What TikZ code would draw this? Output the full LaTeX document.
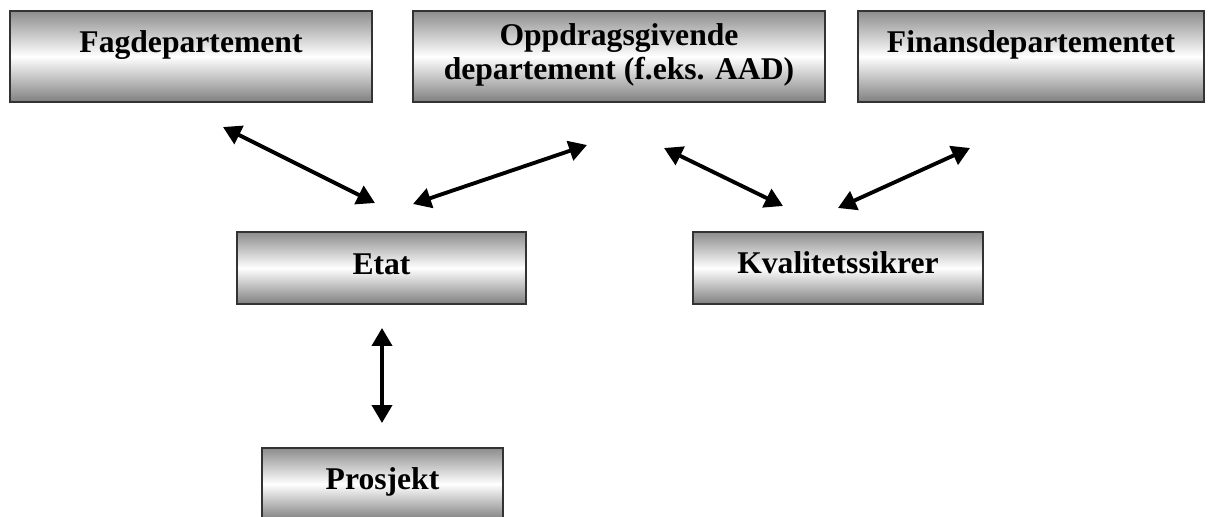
\documentclass[tikz,border=0pt]{standalone}
\usepackage{fontspec}
\setmainfont{Liberation Serif}
\usetikzlibrary{arrows.meta}

\begin{document}
\begin{tikzpicture}[
        x=0.02cm, y=-0.02cm,
        box/.style={rectangle, draw=black!80, line width=0.8pt, top color=black!45, bottom color=black!50, middle color=white, inner sep=0pt, outer sep=0pt},
        topbox/.style={box, minimum height=1.82cm},
        midbox/.style={box, minimum height=1.44cm},
        boxtext/.style={font=\bfseries\fontsize{18}{19.5}\selectfont, align=center, inner sep=0pt, anchor=base},
        link/.style={{Triangle[length=0.36cm, width=0.4cm]}-{Triangle[length=0.36cm, width=0.4cm]}, line width=2.2pt}
    ]
        \useasboundingbox (0,0) rectangle (1214,517);

        % Top row
        \node[topbox, minimum width=7.24cm] (fag) at (191,56.5) {};
        \node[boxtext] (fagtext) at (191,53) {Fagdepartement};

        \node[topbox, minimum width=8.24cm] (opp) at (619,56.5) {};
        \node[boxtext] (opptext) at (619,80) {Oppdragsgivende\\departement (f.eks. AAD)};

        \node[topbox, minimum width=6.92cm] (fin) at (1031,56.5) {};
        \node[boxtext] (fintext) at (1031,53) {Finansdepartementet};

        % Middle row
        \node[midbox, minimum width=5.78cm] (etat) at (381.5,268) {};
        \node[boxtext] (etattext) at (381.5,274) {Etat};

        \node[midbox, minimum width=5.8cm] (kval) at (838,268) {};
        \node[boxtext] (kvaltext) at (838,273) {Kvalitetssikrer};

        % Bottom
        \node[midbox, minimum width=4.82cm] (pro) at (382.5,484) {};
        \node[boxtext] (protext) at (382.5,489) {Prosjekt};

        % Arrow ends
        \coordinate (fagend) at (223,127);
        \coordinate (etatleft) at (375,203);
        \coordinate (etatright) at (413,204);
        \coordinate (oppleft) at (587,145);
        \coordinate (oppright) at (664,148);
        \coordinate (kvalleft) at (783,206);
        \coordinate (kvalright) at (838,208);
        \coordinate (finend) at (970,148);
        \coordinate (etatdown) at (382,328);
        \coordinate (proup) at (382,423);

        % Arrows
        \draw[link] (fagend) -- (etatleft);
        \draw[link] (etatright) -- (oppleft);
        \draw[link] (oppright) -- (kvalleft);
        \draw[link] (kvalright) -- (finend);
        \draw[link] (etatdown) -- (proup);

    \end{tikzpicture}
\end{document}
